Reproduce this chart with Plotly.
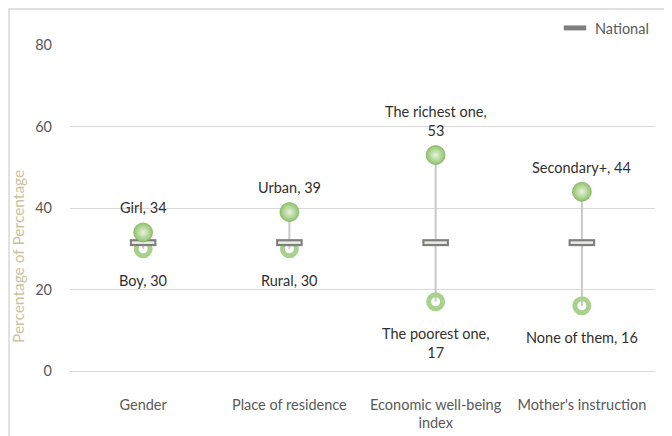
import plotly.graph_objects as go

categories = ["Gender", "Place of residence", "Economic well-being<br>index", "Mother's instruction"]
high_names = ["Girl", "Urban", "The richest one,", "Secondary+"]
high_vals = [34, 39, 53, 44]
low_names = ["Boy", "Rural", "The poorest one,", "None of them"]
low_vals = [30, 30, 17, 16]
national_vals = [31.5, 31.5, 31.5, 31.5]
y_ticks = [0, 20, 40, 60, 80]

FONT = "Lato, Open Sans, sans-serif"
FS = 14.5
green = "#a9d18e"

# page offset of the figure (body margin) and desired plot box in page pixels
OFF = 8
PL, PR, PT, PB = 70, 655, 45, 371
W, H = 672, 436
PW, PH = PR - PL, PB - PT


def px(xp):
    return (xp - PL) / PW


def py(yp):
    return (PB - yp) / PH


fig = go.Figure()

# high-low connector lines
lx, ly = [], []
for c, lo, hi in zip(categories, low_vals, high_vals):
    lx += [c, c, None]
    ly += [lo, hi, None]
fig.add_trace(go.Scatter(x=lx, y=ly, mode="lines", line=dict(color="#c8c8c8", width=2),
                         showlegend=False, hoverinfo="skip"))

# low markers (hollow ring)
fig.add_trace(go.Scatter(x=categories, y=low_vals, mode="markers", showlegend=False,
                         marker=dict(symbol="circle-open", size=14, color=green,
                                     line=dict(width=5, color=green))))

# national markers
fig.add_trace(go.Scatter(x=categories, y=national_vals, mode="markers", name="National",
                         marker=dict(symbol="line-ew", size=19, color="#808080",
                                     line=dict(width=7, color="#7f7f7f"))))
fig.add_trace(go.Scatter(x=categories, y=national_vals, mode="markers", showlegend=False,
                         hoverinfo="skip",
                         marker=dict(symbol="line-ew", size=16, color="#eef0e4",
                                     line=dict(width=2.5, color="#eef0e4"))))

# high markers (sphere)
fig.add_trace(go.Scatter(x=categories, y=high_vals, mode="markers", showlegend=False,
                         marker=dict(symbol="circle", size=19, color="#8fc26a",
                                     gradient=dict(type="radial", color="#e8f4de"),
                                     line=dict(width=0.6, color="#7aa857"))))

anns = []
for c, n, v in zip(categories, high_names, high_vals):
    txt = f"{n}<br>{v}" if n.endswith(",") else f"{n}, {v}"
    anns.append(dict(x=c, y=v, xref="x", yref="y", text=txt, showarrow=False,
                     yanchor="bottom", yshift=14, font=dict(size=FS, color="#303030", family=FONT)))
for c, n, v in zip(categories, low_names, low_vals):
    txt = f"{n}<br>{v}" if n.endswith(",") else f"{n}, {v}"
    anns.append(dict(x=c, y=v, xref="x", yref="y", text=txt, showarrow=False,
                     yanchor="top", yshift=-21, font=dict(size=FS, color="#303030", family=FONT)))

# y axis title
anns.append(dict(x=px(18), y=py(257), xref="paper", yref="paper",
                 text="Percentage of Percentage", textangle=-90, showarrow=False,
                 xanchor="center", yanchor="middle",
                 font=dict(size=15.5, color="#cbc29e", family=FONT)))

fig.update_layout(
    width=W, height=H,
    margin=dict(l=PL - OFF, r=W + OFF - PR, t=PT - OFF, b=H + OFF - PB, autoexpand=False),
    paper_bgcolor="white", plot_bgcolor="white",
    font=dict(family=FONT, size=FS, color="#595959"),
    annotations=anns,
    showlegend=True,
    legend=dict(x=px(654), y=py(28), xanchor="right", yanchor="middle",
                font=dict(size=FS, color="#595959"), itemwidth=30,
                bgcolor="rgba(0,0,0,0)"),
    shapes=[dict(type="rect", xref="paper", yref="paper",
                 x0=px(OFF + 1), x1=px(670),
                 y0=py(470), y1=py(OFF + 1),
                 line=dict(color="#d9d9d9", width=1.5), fillcolor="rgba(0,0,0,0)", layer="below")],
)
fig.update_xaxes(type="category", categoryorder="array", categoryarray=categories,
                 showgrid=False, showline=False, ticks="", tickfont=dict(size=FS, color="#595959"),
                 range=[-0.5, 3.5], ticklabelstandoff=23)
fig.update_yaxes(range=[0, 80], tickvals=y_ticks, showgrid=True, gridcolor="#d9d9d9", gridwidth=1,
                 zeroline=True, zerolinecolor="#d9d9d9", zerolinewidth=1, showline=False,
                 ticks="", ticklen=0, tickfont=dict(size=FS, color="#595959"),
                 ticklabelstandoff=17)

fig.write_html("out.html")
